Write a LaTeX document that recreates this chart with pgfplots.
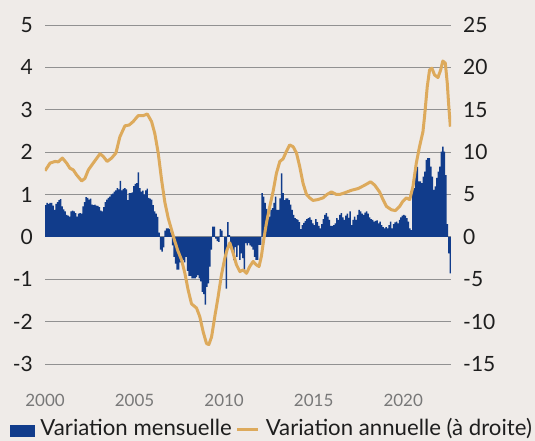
\documentclass[border=0pt]{standalone}
\usepackage{pgfplots}
\pgfplotsset{compat=1.18}
\usepackage{pgfplotstable}
\usepackage{fontspec}
\setmainfont{Lato}
\definecolor{bg}{RGB}{239,235,232}
\definecolor{barblue}{RGB}{17,60,139}
\definecolor{gold}{RGB}{221,170,92}
\definecolor{gridc}{RGB}{145,145,145}
\definecolor{lab}{RGB}{30,30,30}
\definecolor{yearc}{RGB}{120,120,120}

% monthly variation, Jan 2000 ... Aug 2022 (+ closing duplicate)
\pgfplotstableread[row sep=\\]{
v\\
0.75\\ 0.8\\ 0.78\\ 0.8\\ 0.8\\ 0.74\\ 0.64\\ 0.78\\ 0.82\\ 0.87\\ 0.89\\ 0.72\\
0.65\\ 0.6\\ 0.52\\ 0.5\\ 0.48\\ 0.6\\ 0.62\\ 0.6\\ 0.56\\ 0.48\\ 0.55\\ 0.56\\
0.55\\ 0.72\\ 0.82\\ 0.94\\ 0.92\\ 0.88\\ 0.9\\ 0.76\\ 0.75\\ 0.76\\ 0.74\\ 0.73\\
0.7\\ 0.62\\ 0.6\\ 0.7\\ 0.82\\ 0.88\\ 0.92\\ 0.95\\ 1.0\\ 1.02\\ 1.07\\ 1.1\\
1.15\\ 1.12\\ 1.32\\ 1.1\\ 1.13\\ 1.15\\ 1.12\\ 0.87\\ 1.03\\ 1.03\\ 1.05\\ 1.2\\
1.25\\ 1.27\\ 1.52\\ 1.15\\ 1.07\\ 1.09\\ 1.0\\ 1.1\\ 1.14\\ 0.92\\ 0.9\\ 0.88\\
0.75\\ 0.6\\ 0.55\\ 0.47\\ 0.1\\ -0.3\\ -0.35\\ -0.25\\ 0.15\\ 0.2\\ 0.2\\ 0.18\\
0.1\\ -0.2\\ -0.47\\ -0.63\\ -0.77\\ -0.77\\ -0.6\\ -0.6\\ -0.55\\ -0.6\\ -0.47\\ -0.8\\
-0.92\\ -0.92\\ -0.98\\ -0.98\\ -0.98\\ -0.95\\ -0.9\\ -0.98\\ -1.05\\ -1.3\\ -1.35\\ -1.6\\
-1.18\\ -1.1\\ -0.7\\ -0.3\\ 0.24\\ 0.24\\ -0.04\\ -0.1\\ -0.12\\ 0.18\\ 0.15\\ 0.0\\
-0.55\\ -1.22\\ 0.35\\ 0.04\\ -0.24\\ -0.24\\ -0.55\\ -0.24\\ -0.47\\ -0.2\\ -0.54\\ -0.39\\
-0.5\\ -0.78\\ -0.15\\ -0.2\\ -0.15\\ -0.2\\ -0.23\\ -0.3\\ -0.47\\ -0.54\\ -0.54\\ -0.19\\
-0.19\\ 1.03\\ 0.95\\ 0.8\\ 0.66\\ 0.55\\ 0.48\\ 0.64\\ 0.68\\ 0.8\\ 0.95\\ 0.64\\
0.64\\ 0.91\\ 1.5\\ 1.03\\ 0.87\\ 0.91\\ 0.91\\ 0.87\\ 0.76\\ 0.64\\ 0.52\\ 0.44\\
0.42\\ 0.4\\ 0.35\\ 0.18\\ 0.28\\ 0.33\\ 0.38\\ 0.42\\ 0.44\\ 0.46\\ 0.4\\ 0.32\\
0.28\\ 0.42\\ 0.35\\ 0.26\\ 0.2\\ 0.3\\ 0.42\\ 0.52\\ 0.56\\ 0.48\\ 0.4\\ 0.26\\
0.26\\ 0.28\\ 0.32\\ 0.44\\ 0.4\\ 0.52\\ 0.56\\ 0.46\\ 0.4\\ 0.5\\ 0.55\\ 0.45\\
0.6\\ 0.28\\ 0.4\\ 0.48\\ 0.4\\ 0.52\\ 0.64\\ 0.6\\ 0.55\\ 0.52\\ 0.57\\ 0.6\\
0.55\\ 0.46\\ 0.42\\ 0.4\\ 0.36\\ 0.38\\ 0.39\\ 0.32\\ 0.36\\ 0.28\\ 0.23\\ 0.2\\
0.23\\ 0.2\\ 0.28\\ 0.36\\ 0.2\\ 0.3\\ 0.34\\ 0.36\\ 0.32\\ 0.4\\ 0.46\\ 0.5\\
0.52\\ 0.5\\ 0.44\\ 0.36\\ 0.2\\ 0.16\\ 1.31\\ 1.15\\ 1.58\\ 1.65\\ 1.31\\ 1.31\\
1.27\\ 1.42\\ 1.54\\ 1.82\\ 1.86\\ 1.86\\ 1.66\\ 1.42\\ 1.11\\ 1.19\\ 1.39\\ 1.54\\
1.66\\ 2.01\\ 2.13\\ 2.01\\ 1.46\\ 0.3\\ -0.39\\ -0.86\\ -0.86\\
}\bars

% annual variation (right axis)
\pgfplotstableread[row sep=\\]{
x y\\
2000.00 7.8\\ 2000.28 8.7\\ 2000.56 8.9\\ 2000.74 8.85\\ 2000.97 9.3\\
2001.21 8.7\\ 2001.39 8.1\\ 2001.58 7.9\\ 2001.77 7.3\\ 2002.05 6.6\\
2002.23 6.9\\ 2002.42 7.9\\ 2002.69 8.7\\ 2003.07 9.8\\ 2003.25 9.5\\
2003.47 8.9\\ 2003.72 9.3\\ 2003.96 9.9\\ 2004.18 11.8\\ 2004.46 13.1\\
2004.70 13.2\\ 2004.92 13.6\\ 2005.20 14.3\\ 2005.48 14.3\\ 2005.71 14.5\\
2005.95 13.6\\ 2006.13 12.2\\ 2006.32 9.9\\ 2006.51 6.7\\ 2006.69 4.1\\
2006.88 2.2\\ 2007.07 0.8\\ 2007.25 -0.55\\ 2007.43 -1.7\\ 2007.62 -2.7\\
2007.81 -4.3\\ 2007.99 -6.25\\ 2008.18 -7.9\\ 2008.46 -8.4\\ 2008.64 -9.4\\
2008.83 -11.2\\ 2009.02 -12.6\\ 2009.15 -12.7\\ 2009.30 -11.8\\ 2009.48 -9.4\\
2009.67 -7.0\\ 2009.85 -4.5\\ 2010.04 -2.5\\ 2010.17 -1.5\\ 2010.32 -0.7\\
2010.50 -1.9\\ 2010.69 -3.3\\ 2010.88 -4.1\\ 2011.06 -3.9\\ 2011.25 -4.3\\
2011.43 -3.5\\ 2011.62 -2.9\\ 2011.80 -3.3\\ 2011.95 -3.5\\ 2012.08 -2.3\\
2012.21 -0.35\\ 2012.36 1.6\\ 2012.55 3.6\\ 2012.73 5.3\\ 2012.92 7.5\\
2013.11 8.9\\ 2013.29 9.2\\ 2013.48 10.1\\ 2013.66 10.85\\ 2013.85 10.65\\
2014.04 9.9\\ 2014.22 8.3\\ 2014.41 6.3\\ 2014.60 5.0\\ 2014.78 4.6\\
2014.96 4.3\\ 2015.24 4.4\\ 2015.52 4.6\\ 2015.74 5.0\\ 2015.99 5.3\\
2016.27 5.0\\ 2016.45 5.0\\ 2016.73 5.2\\ 2017.11 5.5\\ 2017.48 5.7\\
2017.85 6.1\\ 2018.18 6.5\\ 2018.41 6.1\\ 2018.68 5.3\\ 2018.87 4.4\\
2019.06 3.6\\ 2019.34 3.2\\ 2019.56 3.1\\ 2019.80 3.6\\ 2019.98 4.2\\
2020.17 4.6\\ 2020.36 4.4\\ 2020.54 5.9\\ 2020.73 8.7\\ 2020.91 10.65\\
2021.10 12.4\\ 2021.19 14.2\\ 2021.34 17.7\\ 2021.47 19.7\\ 2021.60 19.9\\
2021.75 19.1\\ 2021.94 18.8\\ 2022.09 19.7\\ 2022.21 20.75\\ 2022.35 20.5\\
2022.46 18.1\\ 2022.53 15.8\\ 2022.63 13.0\\
}\annual

\begin{document}
\begin{tikzpicture}
\fill[bg] (-45bp,-77bp) rectangle (490bp,364bp);
\begin{axis}[
  at={(0,0)}, anchor=south west,
  width=406bp, height=339bp, scale only axis,
  xmin=2000, xmax=2022.667, ymin=-3, ymax=5,
  axis x line*=bottom, axis y line*=left,
  axis line style={draw=none},
  major tick length=0pt,
  ytick={-3,-2,-1,0,1,2,3,4,5},
  yticklabels={-3,-2,-1,0,1,2,3,4,5},
  yticklabel style={font=\fontsize{21bp}{24bp}\selectfont, text=lab, inner sep=0pt, anchor=east, xshift=-12bp},
  xtick={2000,2005,2010,2015,2020},
  xticklabels={2000,2005,2010,2015,2020},
  xticklabel style={font=\fontsize{17bp}{20bp}\selectfont, text=yearc, inner sep=0pt, anchor=north, yshift=-30bp},
  ymajorgrids, grid style={gridc, line width=0.9bp},
]
\addplot[fill=barblue, draw=none, const plot mark left]
  table[x expr=2000+\coordindex/12, y=v] {\bars} \closedcycle;
\end{axis}
\begin{axis}[
  at={(0,0)}, anchor=south west,
  width=406bp, height=339bp, scale only axis,
  xmin=2000, xmax=2022.667, ymin=-15, ymax=25,
  axis x line=none, axis y line*=right,
  axis line style={draw=none},
  major tick length=0pt,
  ytick={-15,-10,-5,0,5,10,15,20,25},
  yticklabels={-15,-10,-5,0,5,10,15,20,25},
  yticklabel style={font=\fontsize{21bp}{24bp}\selectfont, text=lab, inner sep=0pt, anchor=west, xshift=12bp},
  legend columns=2,
  legend style={at={(-0.0860,-0.2160)}, anchor=south west, draw=none, fill=none,
    inner sep=0pt, outer sep=0pt, font=\fontsize{22.2bp}{26bp}\selectfont, text=lab,
    nodes={inner sep=0pt, anchor=base west},
    column sep=6bp, /tikz/every even column/.append style={column sep=4bp}},
]
\addlegendimage{legend image code/.code={\fill[barblue] (0bp,0bp) rectangle (24bp,11bp);}}
\addlegendentry{Variation mensuelle}
\addplot[gold, line width=3bp, line join=round,
  legend image code/.code={\draw[gold, line width=3bp] (0bp,6.3bp) -- (21bp,6.3bp);}]
  table[x=x, y=y] {\annual};
\addlegendentry{Variation annuelle (à droite)}
\end{axis}
\pgfresetboundingbox
\path[use as bounding box] (-45bp,-77bp) rectangle (490bp,364bp);
\end{tikzpicture}
\end{document}
